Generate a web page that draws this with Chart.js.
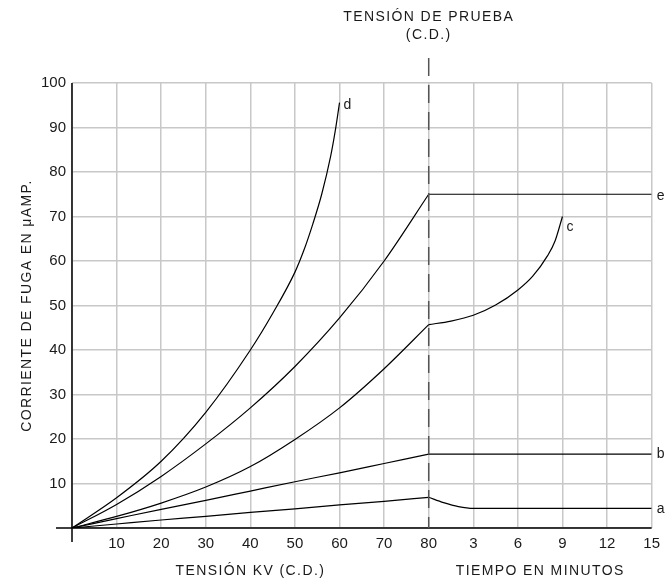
<!DOCTYPE html>
<html>
<head>
<meta charset="utf-8">
<script src="https://cdn.jsdelivr.net/npm/chart.js@4/dist/chart.umd.min.js"></script>
<style>
  html, body { margin: 0; padding: 0; background: #fff; }
  canvas { display: block; }
</style>
</head>
<body>
<canvas id="chart" width="667" height="579"></canvas>
<script>
// tensión de prueba en kV (primera parte del eje x)
const kv = [0, 10, 20, 30, 40, 50, 60, 70, 80];
const curveA = [0, 0.9, 1.8, 2.6, 3.5, 4.3, 5.2, 6.0, 6.9];
const curveB = [0, 2.1, 4.2, 6.2, 8.3, 10.4, 12.4, 14.5, 16.6];
const curveC = [0, 2.6, 5.6, 9.2, 13.8, 19.9, 27.0, 35.8, 45.7];
const curveE = [0, 5.3, 11.6, 18.9, 27.0, 36.3, 47.2, 60.0, 75.0];
const curveDkv = [0, 10, 20, 30, 40, 45, 50, 52, 54, 56, 58, 59, 60];
const curveD = [0, 6.8, 15, 26, 40, 48.2, 57.5, 62.4, 68.3, 75, 83.5, 89, 95.6];

// tiempo en minutos (segunda parte del eje x)
const aMin = [0, 1, 2, 3, 15];
const aTime = [6.9, 5.7, 4.8, 4.4, 4.4];
const bMin = [0, 15];
const bTime = [16.6, 16.6];
const cMin = [0, 1.5, 3, 4.5, 6, 7, 8, 8.5, 9];
const cTime = [45.7, 46.5, 47.8, 50.1, 53.5, 56.6, 61.2, 64.5, 70];
const eMin = [0, 15];
const eTime = [75, 75];

const xTickLabels = ['', '10', '20', '30', '40', '50', '60', '70', '80', '3', '6', '9', '12', '15'];

// 3 minutos ocupan lo mismo que 10 kV
const minToX = m => 80 + m * 10 / 3;

function series(xs, ys) {
    return xs.map((x, i) => ({ x: x, y: ys[i] }));
}

const FONT = '"Liberation Sans", Arial, sans-serif';
const INK = '#1a1a1a';

const lines = [
    series(kv, curveA),
    series(kv, curveB),
    series(kv, curveC),
    series(kv, curveE),
    series(curveDkv, curveD),
    series(aMin.map(minToX), aTime),
    series(bMin.map(minToX), bTime),
    series(cMin.map(minToX), cTime),
    series(eMin.map(minToX), eTime),
];

const curveLabels = [
    { text: 'd', x: 60, y: 95.6, dx: 4, dy: 3 },
    { text: 'e', x: minToX(15), y: 75, dx: 5, dy: 2 },
    { text: 'c', x: minToX(9), y: 70, dx: 4, dy: 11 },
    { text: 'b', x: minToX(15), y: 16.6, dx: 5, dy: 0 },
    { text: 'a', x: minToX(15), y: 4.4, dx: 5, dy: 1 },
];

const overlay = {
    id: 'overlay',
    afterDatasetsDraw(chart) {
        const ctx = chart.ctx;
        const { left, right, top, bottom } = chart.chartArea;
        const xs = chart.scales.x, ys = chart.scales.y;
        ctx.save();

        // ejes
        ctx.strokeStyle = '#000';
        ctx.lineWidth = 1.5;
        ctx.beginPath();
        ctx.moveTo(left, top);
        ctx.lineTo(left, bottom + 14);
        ctx.moveTo(left - 16, bottom);
        ctx.lineTo(right, bottom);
        ctx.stroke();

        // linea de tension de prueba
        const x80 = xs.getPixelForValue(80);
        ctx.strokeStyle = '#555';
        ctx.setLineDash([18, 9]);
        ctx.beginPath();
        ctx.moveTo(x80, 58);
        ctx.lineTo(x80, bottom);
        ctx.stroke();
        ctx.setLineDash([]);

        // letras de las curvas
        ctx.fillStyle = INK;
        ctx.font = '14px ' + FONT;
        ctx.textAlign = 'left';
        ctx.textBaseline = 'middle';
        curveLabels.forEach(l => {
            ctx.fillText(l.text, xs.getPixelForValue(l.x) + l.dx, ys.getPixelForValue(l.y) + l.dy);
        });

        // titulos
        ctx.letterSpacing = '1.4px';
        ctx.textAlign = 'center';
        ctx.fillText('TENSIÓN DE PRUEBA', x80, 17);
        ctx.fillText('(C.D.)', x80, 35);
        ctx.fillText('TENSIÓN KV (C.D.)', (left + x80) / 2, 571);
        ctx.fillText('TIEMPO EN MINUTOS', (x80 + right) / 2, 571);

        ctx.translate(27, (top + bottom) / 2);
        ctx.rotate(-Math.PI / 2);
        ctx.fillText('CORRIENTE DE FUGA EN μAMP.', 0, 0);
        ctx.restore();
    }
};

new Chart(document.getElementById('chart'), {
    type: 'scatter',
    data: {
        datasets: lines.map(d => ({
            data: d,
            showLine: true,
            borderColor: '#000',
            borderWidth: 1.2,
            pointRadius: 0,
            cubicInterpolationMode: 'monotone',
        }))
    },
    options: {
        responsive: false,
        animation: false,
        devicePixelRatio: 1,
        layout: { padding: { top: 83, right: 14, left: 0, bottom: 0 } },
        plugins: { legend: { display: false }, tooltip: { enabled: false } },
        scales: {
            x: {
                type: 'linear',
                min: 0,
                max: 130,
                afterFit(s) { s.height = 51; },
                grid: { color: '#c8c8c8', lineWidth: 1.5, drawTicks: false },
                border: { display: false },
                ticks: {
                    stepSize: 10,
                    autoSkip: false,
                    maxRotation: 0,
                    padding: 7,
                    color: INK,
                    font: { family: FONT, size: 15 },
                    callback: (v, i) => xTickLabels[i]
                }
            },
            y: {
                min: 0,
                max: 100,
                afterFit(s) { s.width = 72; },
                grid: { color: '#c8c8c8', lineWidth: 1.5, drawTicks: false },
                border: { display: false },
                ticks: {
                    stepSize: 10,
                    padding: 6,
                    color: INK,
                    font: { family: FONT, size: 15 },
                    callback: v => v === 0 ? '' : v
                }
            }
        }
    },
    plugins: [overlay]
});
</script>
</body>
</html>
